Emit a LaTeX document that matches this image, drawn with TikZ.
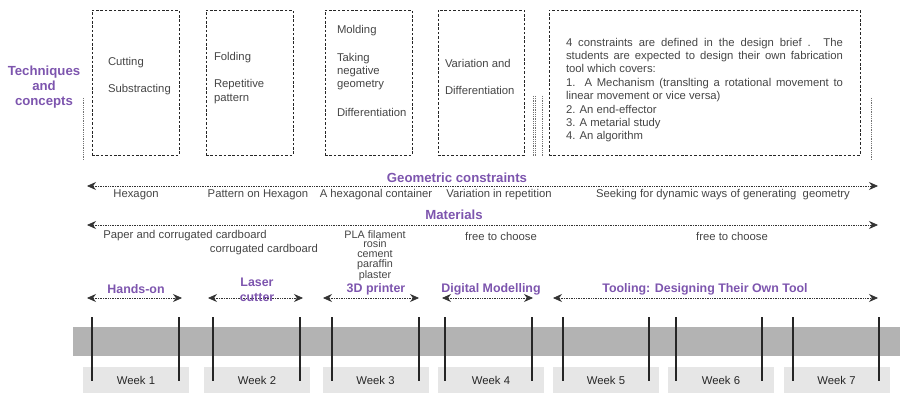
\documentclass[tikz,border=0pt]{standalone}
\usepackage{fontspec}
\setmainfont{Liberation Sans}
\usetikzlibrary{arrows.meta}
\definecolor{purp}{HTML}{7D55AE}
\definecolor{txt}{HTML}{454545}
\definecolor{band}{HTML}{B3B3B3}
\definecolor{weekbg}{HTML}{E6E6E6}
\begin{document}
\begin{tikzpicture}[x=1pt,y=-1pt,
  every node/.style={inner sep=0pt, outer sep=0pt},
  txtnode/.style={font=\fontsize{11.3}{13.4}\selectfont, text=txt},
  lbl/.style={font=\bfseries\fontsize{12.4}{15}\selectfont, text=purp, align=center},
  head/.style={font=\bfseries\fontsize{13.2}{15}\selectfont, text=purp, align=center},
  dbox/.style={draw=black!85, dash pattern=on 2.6pt off 1.8pt, line width=0.9pt, minimum height=145pt},
  darrow/.style={densely dotted, line width=0.7pt, draw=black!80,
     {Stealth[length=9pt,width=8pt]}-{Stealth[length=9pt,width=8pt]}},
  vdot/.style={densely dotted, line width=0.8pt, draw=black!55},
  weekbox/.style={fill=weekbg, minimum width=106pt, minimum height=26pt, font=\fontsize{11.3}{13}\selectfont, text=black!85},
  tick/.style={line width=1.1pt, draw=black!85}
]
\useasboundingbox (0,0) rectangle (900,393);

% dashed boxes
\node[dbox, minimum width=87pt] (b1) at (135.5,82.5) {};
\node[dbox, minimum width=87pt] (b2) at (249.5,82.5) {};
\node[dbox, minimum width=87pt] (b3) at (368.5,82.5) {};
\node[dbox, minimum width=86pt] (b4) at (481,82.5) {};
\node[dbox, minimum width=311pt] (b5) at (704.5,82.5) {};

% dotted vertical separators
\draw[vdot] (83,98) -- (83,160);
\draw[vdot] (533,96) -- (533,157);
\draw[vdot] (535,96) -- (535,157);
\draw[vdot] (542,96) -- (542,157);
\draw[vdot] (871,98) -- (871,160);

% left heading
\node[head] (tech) at (44,87) {Techniques\\and\\concepts};

% box contents
\node[txtnode, anchor=west] (t11) at (108,63) {Cutting};
\node[txtnode, anchor=west] (t12) at (108,90) {Substracting};
\node[txtnode, anchor=west] (t21) at (214,58) {Folding};
\node[txtnode, anchor=west, align=left] (t22) at (214,91.5) {Repetitive\\pattern};
\node[txtnode, anchor=west] (t31) at (337,31) {Molding};
\node[txtnode, anchor=west, align=left] (t32) at (337,71.5) {Taking\\negative\\geometry};
\node[txtnode, anchor=west] (t33) at (337,112) {Differentiation};
\node[txtnode, anchor=west] (t41) at (445,63) {Variation and};
\node[txtnode, anchor=west] (t42) at (445,90) {Differentiation};
\node[txtnode, anchor=west, align=left] (t5) at (566,90) {%
\makebox[277pt][s]{4 constraints are defined in the design brief . The}\\
\makebox[277pt][s]{students are expected to design their own fabrication}\\
tool which covers:\\
\makebox[277pt][s]{1. A Mechanism (translting a rotational movement to}\\
linear movement or vice versa)\\
2. An end-effector\\
3. A metarial study\\
4. An algorithm};

% geometric constraints
\node[head] (geo) at (457,178) {Geometric constraints};
\coordinate (gL) at (87,186);
\coordinate (gR) at (878,186);
\draw[darrow] (gL) -- (gR);
\node[txtnode] (g1) at (136,195) {Hexagon};
\node[txtnode] (g2) at (258,195) {Pattern on Hexagon};
\node[txtnode] (g3) at (376,195) {A hexagonal container};
\node[txtnode] (g4) at (499,195) {Variation in repetition};
\node[txtnode] (g5) at (723,195) {Seeking for dynamic ways of generating\ \ geometry};

% materials
\node[head] (mat) at (454,215) {Materials};
\coordinate (mL) at (87,225);
\coordinate (mR) at (878,225);
\draw[darrow] (mL) -- (mR);
\node[txtnode] (m1) at (185,236) {Paper and corrugated cardboard};
\node[txtnode] (m2) at (264,250) {corrugated cardboard};
\node[txtnode, align=center, font=\fontsize{10.8}{9.6}\selectfont, anchor=north] (m3) at (375,230.5) {PLA filament\\rosin\\cement\\paraffin\\plaster};
\node[txtnode] (m4) at (501,236) {free to choose};
\node[txtnode] (m5) at (732,236) {free to choose};

% phases
\coordinate (p1L) at (87,298);  \coordinate (p1R) at (182,298);
\coordinate (p2L) at (208,298); \coordinate (p2R) at (303,298);
\coordinate (p3L) at (323,298); \coordinate (p3R) at (419,298);
\coordinate (p4L) at (442,298); \coordinate (p4R) at (533,298);
\coordinate (p5L) at (553,298); \coordinate (p5R) at (878,298);
\draw[darrow] (p1L) -- (p1R);
\draw[darrow] (p2L) -- (p2R);
\draw[darrow] (p3L) -- (p3R);
\draw[darrow] (p4L) -- (p4R);
\draw[darrow] (p5L) -- (p5R);
\node[lbl] (l1) at (136,289) {Hands-on};
\node[lbl] (l2) at (257,289.5) {Laser\\cutter};
\node[lbl] (l3) at (376,289) {3D printer};
\node[lbl] (l4) at (491,289) {Digital Modelling};
\node[lbl] (l5) at (705,289) {Tooling: Designing Their Own Tool};

% timeline band
\fill[band] (73,327) rectangle (900,356);

% week boxes
\node[weekbox] (w1) at (136,380) {Week 1};
\node[weekbox] (w2) at (257,380) {Week 2};
\node[weekbox] (w3) at (375.5,380) {Week 3};
\node[weekbox] (w4) at (491,380) {Week 4};
\node[weekbox] (w5) at (606,380) {Week 5};
\node[weekbox] (w6) at (721,380) {Week 6};
\node[weekbox] (w7) at (836.5,380) {Week 7};

% ticks
\foreach \x in {92,179,213,300,332,419,445,532,563,649,676,762,793,879}
  \draw[tick] (\x,317) -- (\x,381);
\end{tikzpicture}
\end{document}
